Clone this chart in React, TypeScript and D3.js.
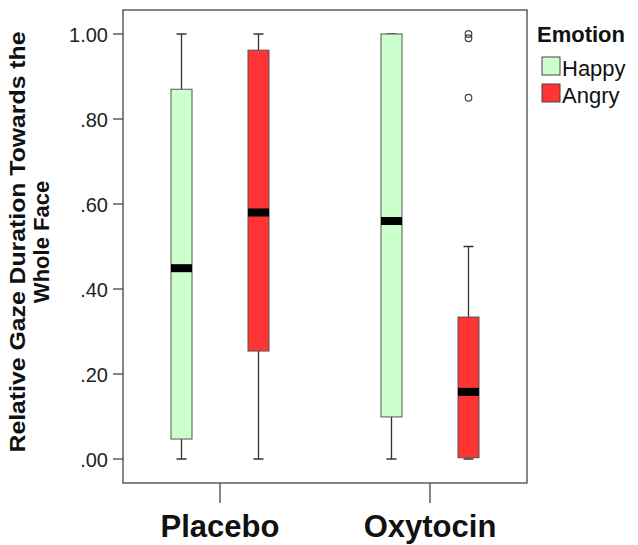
import React from 'react';
import * as d3 from 'd3';

const groups = ['Placebo', 'Oxytocin'];
const emotions = ['Happy', 'Angry'];
const colors = ['#ccffcc', '#ff3535'];

// min, q1, median, q3, max
const placeboHappy = [0.0, 0.047, 0.449, 0.87, 1.0];
const placeboAngry = [0.0, 0.254, 0.58, 0.962, 1.0];
const oxytocinHappy = [0.0, 0.099, 0.56, 1.0, 1.0];
const oxytocinAngry = [0.0, 0.003, 0.158, 0.334, 0.5];
const oxytocinAngryOutliers = [1.0, 0.99, 0.85];

const boxes = [
  { group: 'Placebo', emotion: 'Happy', stats: placeboHappy, outliers: [] as number[] },
  { group: 'Placebo', emotion: 'Angry', stats: placeboAngry, outliers: [] as number[] },
  { group: 'Oxytocin', emotion: 'Happy', stats: oxytocinHappy, outliers: [] as number[] },
  { group: 'Oxytocin', emotion: 'Angry', stats: oxytocinAngry, outliers: oxytocinAngryOutliers },
];

const yTicks = [0, 0.2, 0.4, 0.6, 0.8, 1.0];

const margin = { top: 10, left: 123, right: 527, bottom: 483 };
const font = 'Liberation Sans, Arial, sans-serif';

export default function App() {
  const y = d3.scaleLinear().domain([0, 1]).range([459, 34]);
  const x = d3.scalePoint<string>().domain(groups).range([220, 430]);
  const offset = d3.scalePoint<string>().domain(emotions).range([-38.5, 38.5]);
  const fmt = (v: number) => (v >= 1 ? '1.00' : d3.format('.2f')(v).replace(/^0/, ''));
  const bw = 21;

  return (
    <svg width={638} height={545} style={{ display: 'block', position: 'absolute', left: 0, top: 0 }}>
      <rect x={0} y={0} width={638} height={545} fill="#fff" />
      {/* frame */}
      <rect x={margin.left} y={margin.top} width={margin.right - margin.left} height={margin.bottom - margin.top}
        fill="none" stroke="#444" strokeWidth={1.3} />

      {/* y axis */}
      {yTicks.map(t => (
        <g key={t}>
          <line x1={margin.left - 10} x2={margin.left} y1={y(t)} y2={y(t)} stroke="#444" strokeWidth={1.3} />
          <text x={margin.left - 15} y={y(t)} dy="0.42em" textAnchor="end" fontFamily={font} fontSize={20} fill="#222">{fmt(t)}</text>
        </g>
      ))}

      {/* x axis */}
      {groups.map(g => (
        <g key={g}>
          <line x1={x(g)} x2={x(g)} y1={margin.bottom} y2={margin.bottom + 20} stroke="#444" strokeWidth={1.3} />
          <text x={x(g)} y={537} textAnchor="middle" fontFamily={font} fontSize={31} fontWeight="bold" fill="#111">{g}</text>
        </g>
      ))}

      {/* boxes */}
      {boxes.map((b, i) => {
        const cx = (x(b.group) as number) + (offset(b.emotion) as number);
        const [mn, q1, med, q3, mx] = b.stats;
        const fill = colors[emotions.indexOf(b.emotion)];
        return (
          <g key={i}>
            <line x1={cx} x2={cx} y1={y(mx)} y2={y(q3)} stroke="#333" strokeWidth={1.3} />
            <line x1={cx} x2={cx} y1={y(q1)} y2={y(mn)} stroke="#333" strokeWidth={1.3} />
            <line x1={cx - 5} x2={cx + 5} y1={y(mx)} y2={y(mx)} stroke="#333" strokeWidth={1.5} />
            <line x1={cx - 5} x2={cx + 5} y1={y(mn)} y2={y(mn)} stroke="#333" strokeWidth={1.5} />
            <rect x={cx - bw / 2} y={y(q3)} width={bw} height={Math.max(y(q1) - y(q3), 1)} fill={fill} stroke="#555" strokeWidth={1} />
            <rect x={cx - bw / 2} y={y(med) - 4} width={bw} height={8} fill="#000" />
            {b.outliers.map((o, j) => (
              <circle key={j} cx={cx} cy={y(o)} r={3.3} fill="none" stroke="#444" strokeWidth={1.2} />
            ))}
          </g>
        );
      })}

      {/* y label */}
      <g transform="translate(25,242) rotate(-90)" fontFamily={font} fontSize={22} fontWeight="bold" fill="#111">
        <text x={0} y={0} textAnchor="middle" textLength={421} lengthAdjust="spacingAndGlyphs">Relative Gaze Duration Towards the</text>
        <text x={0} y={24} textAnchor="middle">Whole Face</text>
      </g>

      {/* legend */}
      <text x={537} y={42} fontFamily={font} fontSize={22} fontWeight="bold" fill="#111">Emotion</text>
      {emotions.map((e, i) => (
        <g key={e} transform={`translate(542,${57 + i * 27})`}>
          <rect x={0} y={0} width={18} height={18} fill={colors[i]} stroke="#444" strokeWidth={1} />
          <text x={20} y={19} fontFamily={font} fontSize={22} fill="#111">{e}</text>
        </g>
      ))}
    </svg>
  );
}
